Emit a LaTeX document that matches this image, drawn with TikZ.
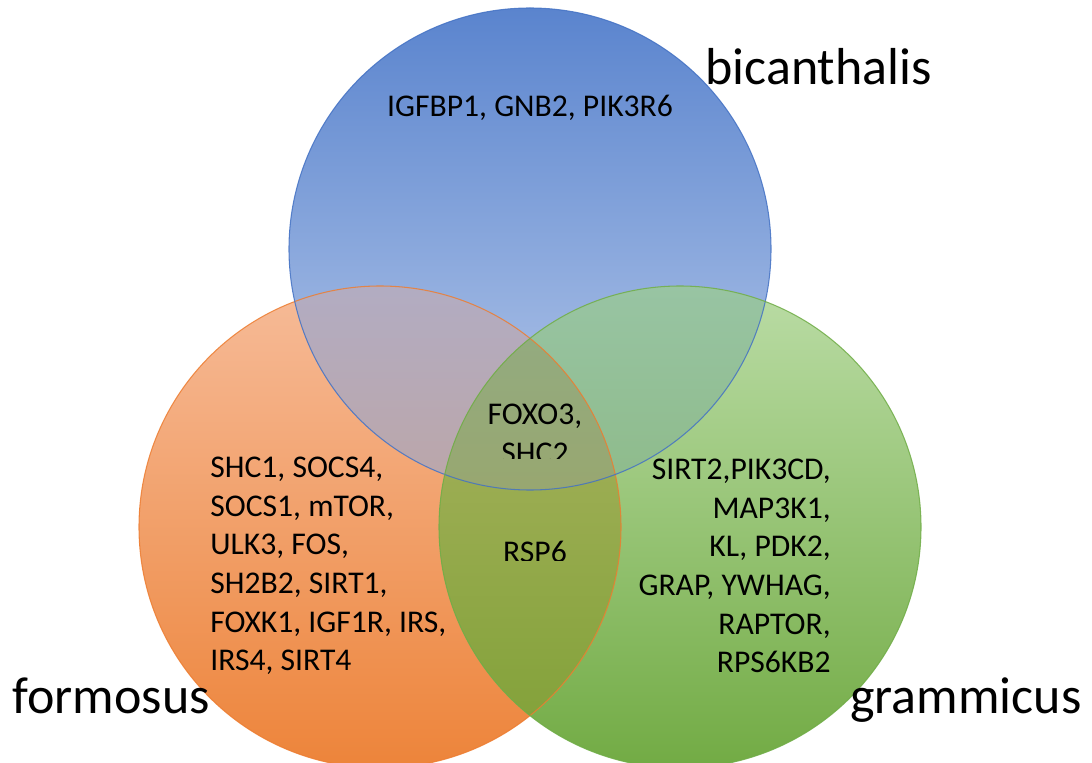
\documentclass[tikz,border=0pt]{standalone}
\usepackage{fontspec}
\setmainfont{Carlito}
\definecolor{bTop}{HTML}{5A84CE}
\definecolor{bMid}{HTML}{A5BBE4}
\definecolor{bBot}{HTML}{BACCEB}
\definecolor{oTop}{HTML}{F6BB98}
\definecolor{oMid}{HTML}{F4A46F}
\definecolor{oBot}{HTML}{ED843A}
\definecolor{gTop}{HTML}{BADCA5}
\definecolor{gMid}{HTML}{9BCA7F}
\definecolor{gBot}{HTML}{72AB44}
\definecolor{boTop}{HTML}{B2ACC2}
\definecolor{boBot}{HTML}{BCA6A8}
\definecolor{bgTop}{HTML}{98C4A3}
\definecolor{bgBot}{HTML}{8EBB8A}
\definecolor{ogTop}{HTML}{A9B360}
\definecolor{ogBot}{HTML}{7FA036}
\definecolor{tTop}{HTML}{93AB80}
\definecolor{tBot}{HTML}{98A770}
\definecolor{bLine}{HTML}{4472C4}
\definecolor{oLine}{HTML}{ED7D31}
\definecolor{gLine}{HTML}{70AD47}
\begin{document}
\begin{tikzpicture}[x=0.02cm,y=-0.02cm,
  genes/.style={font=\fontsize{18}{22}\selectfont, inner sep=0pt, text=black},
  setlabel/.style={font=\fontsize{29.6}{34}\selectfont, inner sep=0pt, text=black},
  ring/.style={line width=0.6pt, draw opacity=0.85}]
\useasboundingbox (0,0) rectangle (1092,763);
\clip (0,0) rectangle (1092,763);
\coordinate (cb) at (530,249);
\coordinate (co) at (380,527);
\coordinate (cg) at (680,527);
% single circles
\shade[top color=oTop, middle color=oMid, bottom color=oBot] (co) circle[radius=241];
\shade[top color=bTop, middle color=bMid, bottom color=bBot] (cb) circle[radius=241];
\shade[top color=gTop, middle color=gMid, bottom color=gBot] (cg) circle[radius=241];
% pair overlaps
\begin{scope}
  \clip (co) circle[radius=241];
  \clip (cb) circle[radius=241];
  \shade[top color=boTop, bottom color=boBot] (100,286) rectangle (700,492);
\end{scope}
\begin{scope}
  \clip (cg) circle[radius=241];
  \clip (cb) circle[radius=241];
  \shade[top color=bgTop, bottom color=bgBot] (400,286) rectangle (1000,492);
\end{scope}
\begin{scope}
  \clip (co) circle[radius=241];
  \clip (cg) circle[radius=241];
  \shade[top color=ogTop, bottom color=ogBot] (400,330) rectangle (700,768);
\end{scope}
\begin{scope}
  \clip (co) circle[radius=241];
  \clip (cg) circle[radius=241];
  \clip (cb) circle[radius=241];
  \shade[top color=tTop, bottom color=tBot] (400,330) rectangle (700,492);
\end{scope}
% outlines
\draw[ring, oLine] (co) circle[radius=241];
\draw[ring, bLine] (cb) circle[radius=241];
\draw[ring, gLine] (cg) circle[radius=241];
% gene lists
\node[genes] (blist) at (530,108) {IGFBP1, GNB2, PIK3R6};
\node[genes, align=left, anchor=west] (olist) at (210,566)
  {SHC1, SOCS4,\\ SOCS1, mTOR,\\ ULK3, FOS,\\ SH2B2, SIRT1,\\ FOXK1, IGF1R, IRS,\\ IRS4, SIRT4};
\node[genes, align=right, anchor=east] (glist) at (831,566)
  {SIRT2,PIK3CD,\\ MAP3K1,\\ KL, PDK2,\\ GRAP, YWHAG,\\ RAPTOR,\\ RPS6KB2};
\begin{scope}
  \clip (470,380) rectangle (610,458);
  \node[genes, align=center] (center) at (535,434) {FOXO3,\\ SHC2};
\end{scope}
\begin{scope}
  \clip (470,520) rectangle (610,560);
  \node[genes] (oglist) at (535,552) {RSP6};
\end{scope}
% set labels
\node[setlabel, anchor=base west] (blabel) at (705,85) {bicanthalis};
\node[setlabel, anchor=base west] (olabel) at (12,713) {formosus};
\node[setlabel, anchor=base west] (glabel) at (850,713) {grammicus};
\end{tikzpicture}
\end{document}
